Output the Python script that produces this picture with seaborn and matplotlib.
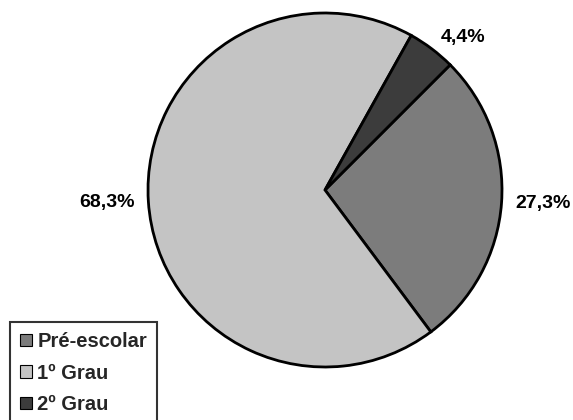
import seaborn as sns
import matplotlib.pyplot as plt

# Dados
categorias = ['Pré-escolar', '1º Grau', '2º Grau']
percentuais = [27.3, 68.3, 4.4]
rotulos = ['27,3%', '68,3%', '4,4%']
cores = ['#7c7c7c', '#c4c4c4', '#3c3c3c']

sns.set_theme(style="white")
plt.rcParams['font.family'] = ['Liberation Sans', 'DejaVu Sans']

fig = plt.figure(figsize=(5.73, 4.2), dpi=100)
ax = fig.add_axes([(325 - 177) / 573, (420 - 190 - 177) / 420, 354 / 573, 354 / 420])

# Gráfico de pizza
wedges, textos = ax.pie(
    percentuais, labels=rotulos, colors=cores, startangle=45, counterclock=False,
    labeldistance=1.08, wedgeprops={'edgecolor': 'black', 'linewidth': 2},
    textprops={'fontsize': 14, 'fontweight': 'bold', 'color': 'black'},
)
ax.set_xlim(-1, 1)
ax.set_ylim(-1, 1)

# Legenda no canto inferior esquerdo
leg = fig.legend(
    wedges, categorias, loc='upper left', bbox_to_anchor=(10 / 573, 1 - 322 / 420),
    frameon=True, fancybox=False, handlelength=0.6, handleheight=0.6,
    handletextpad=0.25, labelspacing=0.62, borderpad=0.5, borderaxespad=0,
    prop={'size': 14.5, 'weight': 'bold'},
)
leg.get_frame().set_edgecolor('black')
leg.get_frame().set_linewidth(1.5)
for h in leg.legend_handles:
    h.set_linewidth(0.8)

fig.savefig('out.png', dpi=100)
